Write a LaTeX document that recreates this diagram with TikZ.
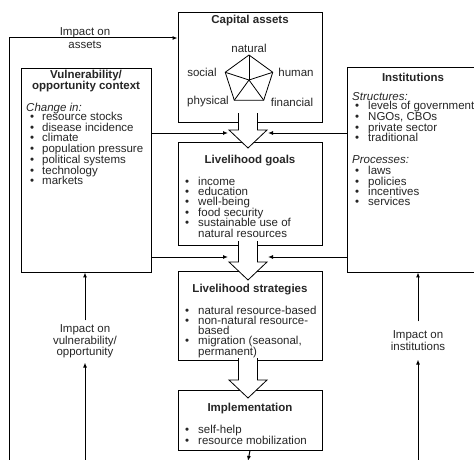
\documentclass[tikz,border=0pt]{standalone}
\usepackage{fontspec}
\setmainfont{Liberation Sans}
\usetikzlibrary{arrows.meta,calc}

\newcommand\bodyfont{\fontsize{11.5}{10.5}\selectfont}
\tikzset{
  box/.style={draw, line width=0.8pt, fill=white, inner sep=0pt},
  ttl/.style={font=\fontsize{11.5}{11}\selectfont\bfseries, inner sep=0pt, align=center},
  itm/.style={anchor=west, inner sep=0pt, text height=7.5pt, text depth=1.5pt},
  sub/.style={itm, font=\bodyfont\itshape},
  lnk/.style={line width=1pt, -{Latex[length=5pt,width=4pt]}},
  blk/.style={draw, line width=0.8pt, fill=white, line join=miter},
}

\begin{document}
\begin{tikzpicture}[x=1pt, y=-1pt, font=\bodyfont, text=black!85]
  \useasboundingbox (0,0) rectangle (474,460);
  \clip (0,0) rectangle (474,460);
  % boxes
  \node[box, minimum width=144pt, minimum height=110pt] (capital) at (250,67) {};
  \node[box, minimum width=144pt, minimum height=103pt] (goals) at (250,193.5) {};
  \node[box, minimum width=144pt, minimum height=89pt] (strat) at (250,315.5) {};
  \node[box, minimum width=144pt, minimum height=60pt] (impl) at (250,420) {};
  \node[box, minimum width=130pt, minimum height=204pt] (vuln) at (86,170) {};
  \node[box, minimum width=133pt, minimum height=205pt] (inst) at (413.5,169.5) {};
  % block arrows: shaft top/head base
  \foreach \t/\b in {113/130, 241/262, 358/380}{
    \path[blk] (238.5,\t) -- (238.5,\b) -- (229,\b) -- ({248},{\b+18})
      -- (267,\b) -- (257.5,\b) -- (257.5,\t);
  }
  % capital assets pentagon
  \node[ttl] (capt) at (250,21) {Capital assets};
  \coordinate (ctr) at (249,80);
  \foreach \i/\a in {1/-90,2/-18,3/54,4/126,5/198}{
    \coordinate (p\i) at ($(ctr)+(\a:25)$);
    \draw[line width=0.8pt] (ctr) -- (p\i);
  }
  \draw[line width=0.8pt, line join=miter] (p1) -- (p2) -- (p3) -- (p4) -- (p5) -- cycle;
  \node[inner sep=0pt] (nat) at (249,48) {natural};
  \node[inner sep=0pt] (soc) at (202,72) {social};
  \node[inner sep=0pt] (hum) at (296,72) {human};
  \node[inner sep=0pt] (phy) at (208,102) {physical};
  \node[inner sep=0pt] (fin) at (292,102) {financial};
  % vulnerability context
  \node[ttl] (vt) at (86,81.5) {Vulnerability/\\opportunity context};
  \node[sub] (vc) at (26,108) {Change in:};
  \foreach \y/\t [count=\i] in {118/resource stocks, 128/disease incidence,
    138/climate, 149/population pressure, 160/political systems,
    171/technology, 181/markets}{
    \node[itm] (vb\i) at (30,\y) {\textbullet};
    \node[itm] (vi\i) at (42,\y) {\t};
  }
  % institutions
  \node[ttl] (it) at (413,77) {Institutions};
  \node[sub] (is) at (352,97) {Structures:};
  \foreach \y/\t [count=\i] in {107/levels of government, 118/{NGOs, CBOs},
    128/private sector, 138/traditional}{
    \node[itm] (sb\i) at (355,\y) {\textbullet};
    \node[itm] (si\i) at (368,\y) {\t};
  }
  \node[sub] (ip) at (352,160) {Processes:};
  \foreach \y/\t [count=\i] in {171/laws, 182/policies, 192/incentives, 202/services}{
    \node[itm] (pb\i) at (355,\y) {\textbullet};
    \node[itm] (pi\i) at (368,\y) {\t};
  }
  % livelihood goals
  \node[ttl] (gt) at (250,161) {Livelihood goals};
  \foreach \y/\t [count=\i] in {182/income, 192/education, 202/well-being,
    213/food security, 223/sustainable use of}{
    \node[itm] (gb\i) at (185,\y) {\textbullet};
    \node[itm] (gi\i) at (198,\y) {\t};
  }
  \node[itm] (gi6) at (198,234) {natural resources};
  % livelihood strategies
  \node[ttl] (st) at (250,290) {Livelihood strategies};
  \foreach \y/\t [count=\i] in {311/natural resource-based, 321/non-natural resource-,
    341/{migration (seasonal,}}{
    \node[itm] (sb\i) at (185,\y) {\textbullet};
    \node[itm] (sti\i) at (198,\y) {\t};
  }
  \node[itm] (sc1) at (198,331) {based};
  \node[itm] (sc2) at (198,352) {permanent)};
  % implementation
  \node[ttl] (mt) at (250,409) {Implementation};
  \foreach \y/\t [count=\i] in {430/self-help, 441/resource mobilization}{
    \node[itm] (mb\i) at (185,\y) {\textbullet};
    \node[itm] (mi\i) at (198,\y) {\t};
  }
  % arrows into the flow
  \foreach \y/\n in {133/a, 257/b}{
    \coordinate (vl\n) at (vuln.east |- 0,\y);
    \coordinate (il\n) at (inst.west |- 0,\y);
    \coordinate (vr\n) at (228,\y);
    \coordinate (ir\n) at (268,\y);
    \draw[lnk] (vl\n) -- (vr\n);
    \draw[lnk] (il\n) -- (ir\n);
  }
  \coordinate (out) at (248,461);
  \draw[lnk] (impl.south) -- (out);
  % feedback
  \coordinate (fb) at (9,470);
  \coordinate (fc) at (9,38);
  \draw[lnk] (fb) -- (fc) -- (capital.west |- fc);
  \node[inner sep=0pt, align=center, font=\fontsize{11.5}{12.5}\selectfont] (ia) at (85,38) {Impact on\\assets};
  \node[inner sep=4pt, align=center] (iv) at (85,341.5) {Impact on\\vulnerability/\\opportunity};
  \coordinate (vb) at (85,470);
  \draw[lnk] (vb) -- (iv.south);
  \draw[lnk] (iv.north) -- (iv.north |- vuln.south);
  \node[inner xsep=4pt, inner ysep=9pt, align=center] (ii) at (418,340.5) {Impact on\\institutions};
  \coordinate (ib) at (418,470);
  \draw[lnk] (ib) -- (ii.south);
  \draw[lnk] (ii.north) -- (ii.north |- inst.south);
\end{tikzpicture}
\end{document}
